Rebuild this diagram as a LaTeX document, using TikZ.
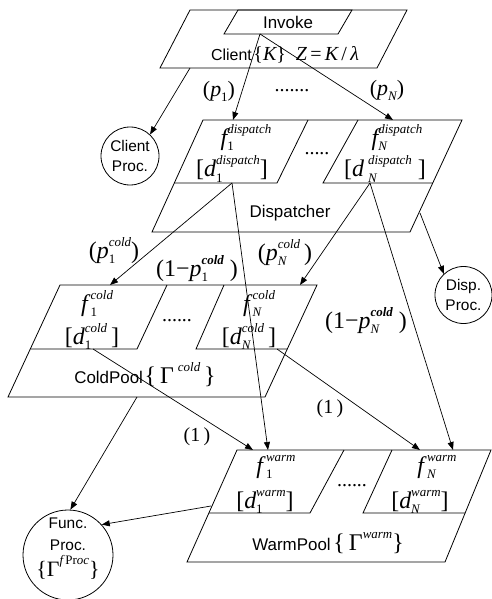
\documentclass[tikz,border=0pt]{standalone}
\usepackage{fontspec}
\setmainfont{Liberation Sans}
\newfontfamily\tms{Liberation Serif}
\usetikzlibrary{arrows.meta}
\newcommand{\scr}{\fontsize{13}{15}\selectfont}
% #1 = subscript, #2 = superscript (text mode, Times-like)
\newcommand{\SupSub}[2]{{\setbox0=\hbox{\scr #2}\setbox2=\hbox{\scr #1}%
  \dimen0=\wd0 \ifdim\wd2>\dimen0 \dimen0=\wd2 \fi
  \hbox to \dimen0{\rlap{\raise 12bp\box0}\rlap{\lower 5bp\box2}\hfil}}}
\newcommand{\MS}{\fontsize{24}{28}\selectfont\tms}
\newcommand{\ML}{\fontsize{22}{26}\selectfont\tms}
\newcommand{\MT}{\fontsize{20}{24}\selectfont\tms}
\newcommand{\sansL}{\fontsize{17}{20}\selectfont}
\tikzset{
  box/.style={draw, line width=0.8bp},
  conn/.style={draw, line width=0.7bp, -{Triangle[length=8bp,width=6bp]}},
  proc/.style={draw, line width=0.8bp, circle, inner sep=0pt, align=center, font=\fontsize{15.5}{20}\selectfont},
  mlabel/.style={inner sep=0pt, font=\MS},
  llabel/.style={inner sep=0pt, font=\ML},
  tlabel/.style={inner sep=0pt, font=\MT},
  slabel/.style={inner sep=0pt, font=\sansL}
}
\begin{document}
\begin{tikzpicture}[x=1bp,y=-1bp]
\useasboundingbox (0,0) rectangle (492,599);
% ---------- Client ----------
\draw[box] (190,10) -- (407,10) -- (377,68) -- (160,68) -- cycle;
\draw[box] (238,10) -- (352,10) -- (338,34) -- (224,34) -- cycle;
\node[slabel] (invoke) at (288,22) {Invoke};
\node[inner sep=0pt, anchor=base] (client) at (285,61) {{\fontsize{16}{19}\selectfont Client}\,{\MT\{{\itshape K}\}\ \ {\itshape Z}\,=\,{\itshape K}\,/\,{\itshape λ}}};
% ---------- Dispatcher ----------
\draw[box] (203,120) -- (462,120) -- (410,232) -- (152,232) -- cycle;
\draw[box] (174.3,183) -- (277,183) -- (308,120);
\draw[box] (358,120) -- (323,183) -- (432.8,183);
\node[mlabel, anchor=base] (f1d) at (246,146) {{\itshape f}\SupSub{1}{\itshape dispatch}};
\node[mlabel, anchor=base] (d1d) at (232,177) {[{\itshape d}\SupSub{1}{\itshape dispatch}]};
\node[tlabel, anchor=base] (dotsd) at (317,155) {.....};
\node[mlabel, anchor=base] (fNd) at (397,146) {{\itshape f}\SupSub{\itshape N}{\itshape dispatch}};
\node[mlabel, anchor=base] (dNd) at (385,177) {[{\itshape d}\,\SupSub{\itshape N}{\itshape dispatch}\ ]};
\node[slabel] (disp) at (290,213) {Dispatcher};
% ---------- Cold pool ----------
\draw[box] (60,285) -- (317,285) -- (265,397) -- (8,397) -- cycle;
\draw[box] (30.3,349) -- (137,349) -- (167,285);
\draw[box] (224,285) -- (196,349) -- (287.3,349);
\node[mlabel, anchor=base] (f1c) at (97,311) {{\itshape f}\hspace{3bp}\SupSub{1}{\itshape cold}};
\node[mlabel, anchor=base] (d1c) at (92,344) {[{\itshape d}\SupSub{1}{\itshape cold}\,]};
\node[tlabel, anchor=base] (dotsc) at (177,321) {......};
\node[mlabel, anchor=base] (fNc) at (259,311) {{\itshape f}\hspace{3bp}\SupSub{\itshape N}{\itshape cold}};
\node[mlabel, anchor=base] (dNc) at (249,344) {[{\itshape d}\SupSub{\itshape N}{\itshape cold}\,]};
\node[inner sep=0pt, anchor=base] (coldpool) at (145,383) {{\sansL ColdPool}\,{\MS\{\,Γ\,\SupSub{}{\itshape cold}\,\}}};
% ---------- Warm pool ----------
\draw[box] (237,450) -- (491,450) -- (445,562) -- (187,562) -- cycle;
\draw[box] (208.9,513) -- (310,513) -- (344,450);
\draw[box] (392,450) -- (363,513) -- (465.1,513);
\node[mlabel, anchor=base] (f1w) at (276,473) {{\itshape f}\hspace{3bp}\SupSub{1}{\itshape warm}};
\node[mlabel, anchor=base] (d1w) at (265,508) {[{\itshape d}\SupSub{1}{\itshape warm}]};
\node[tlabel, anchor=base] (dotsw) at (352,486) {......};
\node[mlabel, anchor=base] (fNw) at (437,473) {{\itshape f}\hspace{3bp}\SupSub{\itshape N}{\itshape warm}};
\node[mlabel, anchor=base] (dNw) at (420,508) {[{\itshape d}\SupSub{\itshape N}{\itshape warm}]};
\node[inner sep=0pt, anchor=base] (warmpool) at (328,550) {{\sansL WarmPool}\ {\MS\{\,Γ\SupSub{}{\itshape warm}\}}};
% ---------- Processors ----------
\node[proc, minimum size=58bp] (cproc) at (130,156) {Client\\Proc.};
\node[proc, minimum size=57bp] (dproc) at (463.5,295) {Disp.\\Proc.};
\node[proc, minimum size=90bp] (fproc) at (68,555) {};
\node[inner sep=0pt, align=center, font=\fontsize{15.5}{20}\selectfont] (fproctxt) at (68,550) {Func.\\[2pt]Proc.\\[4pt]{\ML\{Γ\SupSub{}{{\itshape f}\,Pr{\itshape oc}}\}}};
% ---------- Connection points ----------
\coordinate (invB) at (260,34);
\coordinate (clientB) at (190,68);
\coordinate (d1top) at (233,120);
\coordinate (dNtop) at (393,120);
\coordinate (d1b) at (232,183);
\coordinate (dNb) at (370,183);
\coordinate (dispR) at (420,213);
\coordinate (c1top) at (110,285);
\coordinate (cNtop) at (300,285);
\coordinate (c1b) at (93,349);
\coordinate (cNb) at (277,349);
\coordinate (coldB) at (137,397);
\coordinate (w1topA) at (253,450);
\coordinate (w1topB) at (268,450);
\coordinate (wNtopA) at (420,450);
\coordinate (wNtopB) at (453,450);
\coordinate (warmL) at (211,506);
% ---------- Connectors ----------
\draw[conn] (invB) -- (d1top);
\draw[conn] (invB) -- (dNtop);
\draw[conn] (clientB) -- (cproc.47);
\draw[conn] (d1b) -- (c1top);
\draw[conn] (d1b) -- (w1topB);
\draw[conn] (dNb) -- (cNtop);
\draw[conn] (dNb) -- (wNtopB);
\draw[conn] (dispR) -- (dproc.133);
\draw[conn] (c1b) -- (w1topA);
\draw[conn] (cNb) -- (wNtopA);
\draw[conn] (coldB) -- (fproc.87);
\draw[conn] (warmL) -- (fproc.42);
% ---------- Labels ----------
\node[llabel, anchor=base] (lp1) at (219,97) {({\itshape p}\SupSub{1}{})};
\node[tlabel, anchor=base] (ldots) at (292,92) {.......};
\node[llabel, anchor=base] (lpN) at (387,96) {({\itshape p}\SupSub{\itshape N}{})};
\node[mlabel, anchor=base] (lp1c) at (114,258) {({\itshape p}\SupSub{1}{\itshape cold})};
\node[mlabel, anchor=base] (lpNc) at (285,260) {({\itshape p}\SupSub{\itshape N}{\itshape cold}\,)};
\node[mlabel, anchor=base] (lq1c) at (197,276) {(1−{\itshape p}\SupSub{1}{\bfseries\itshape cold}\ )};
\node[mlabel, anchor=base] (lqNc) at (366,328) {(1−{\itshape p}\SupSub{\itshape N}{\bfseries\itshape cold}\ )};
\node[tlabel, anchor=base] (lone1) at (197,441) {(1\,)};
\node[tlabel, anchor=base] (lone2) at (330,413) {(1\,)};
\end{tikzpicture}
\end{document}
